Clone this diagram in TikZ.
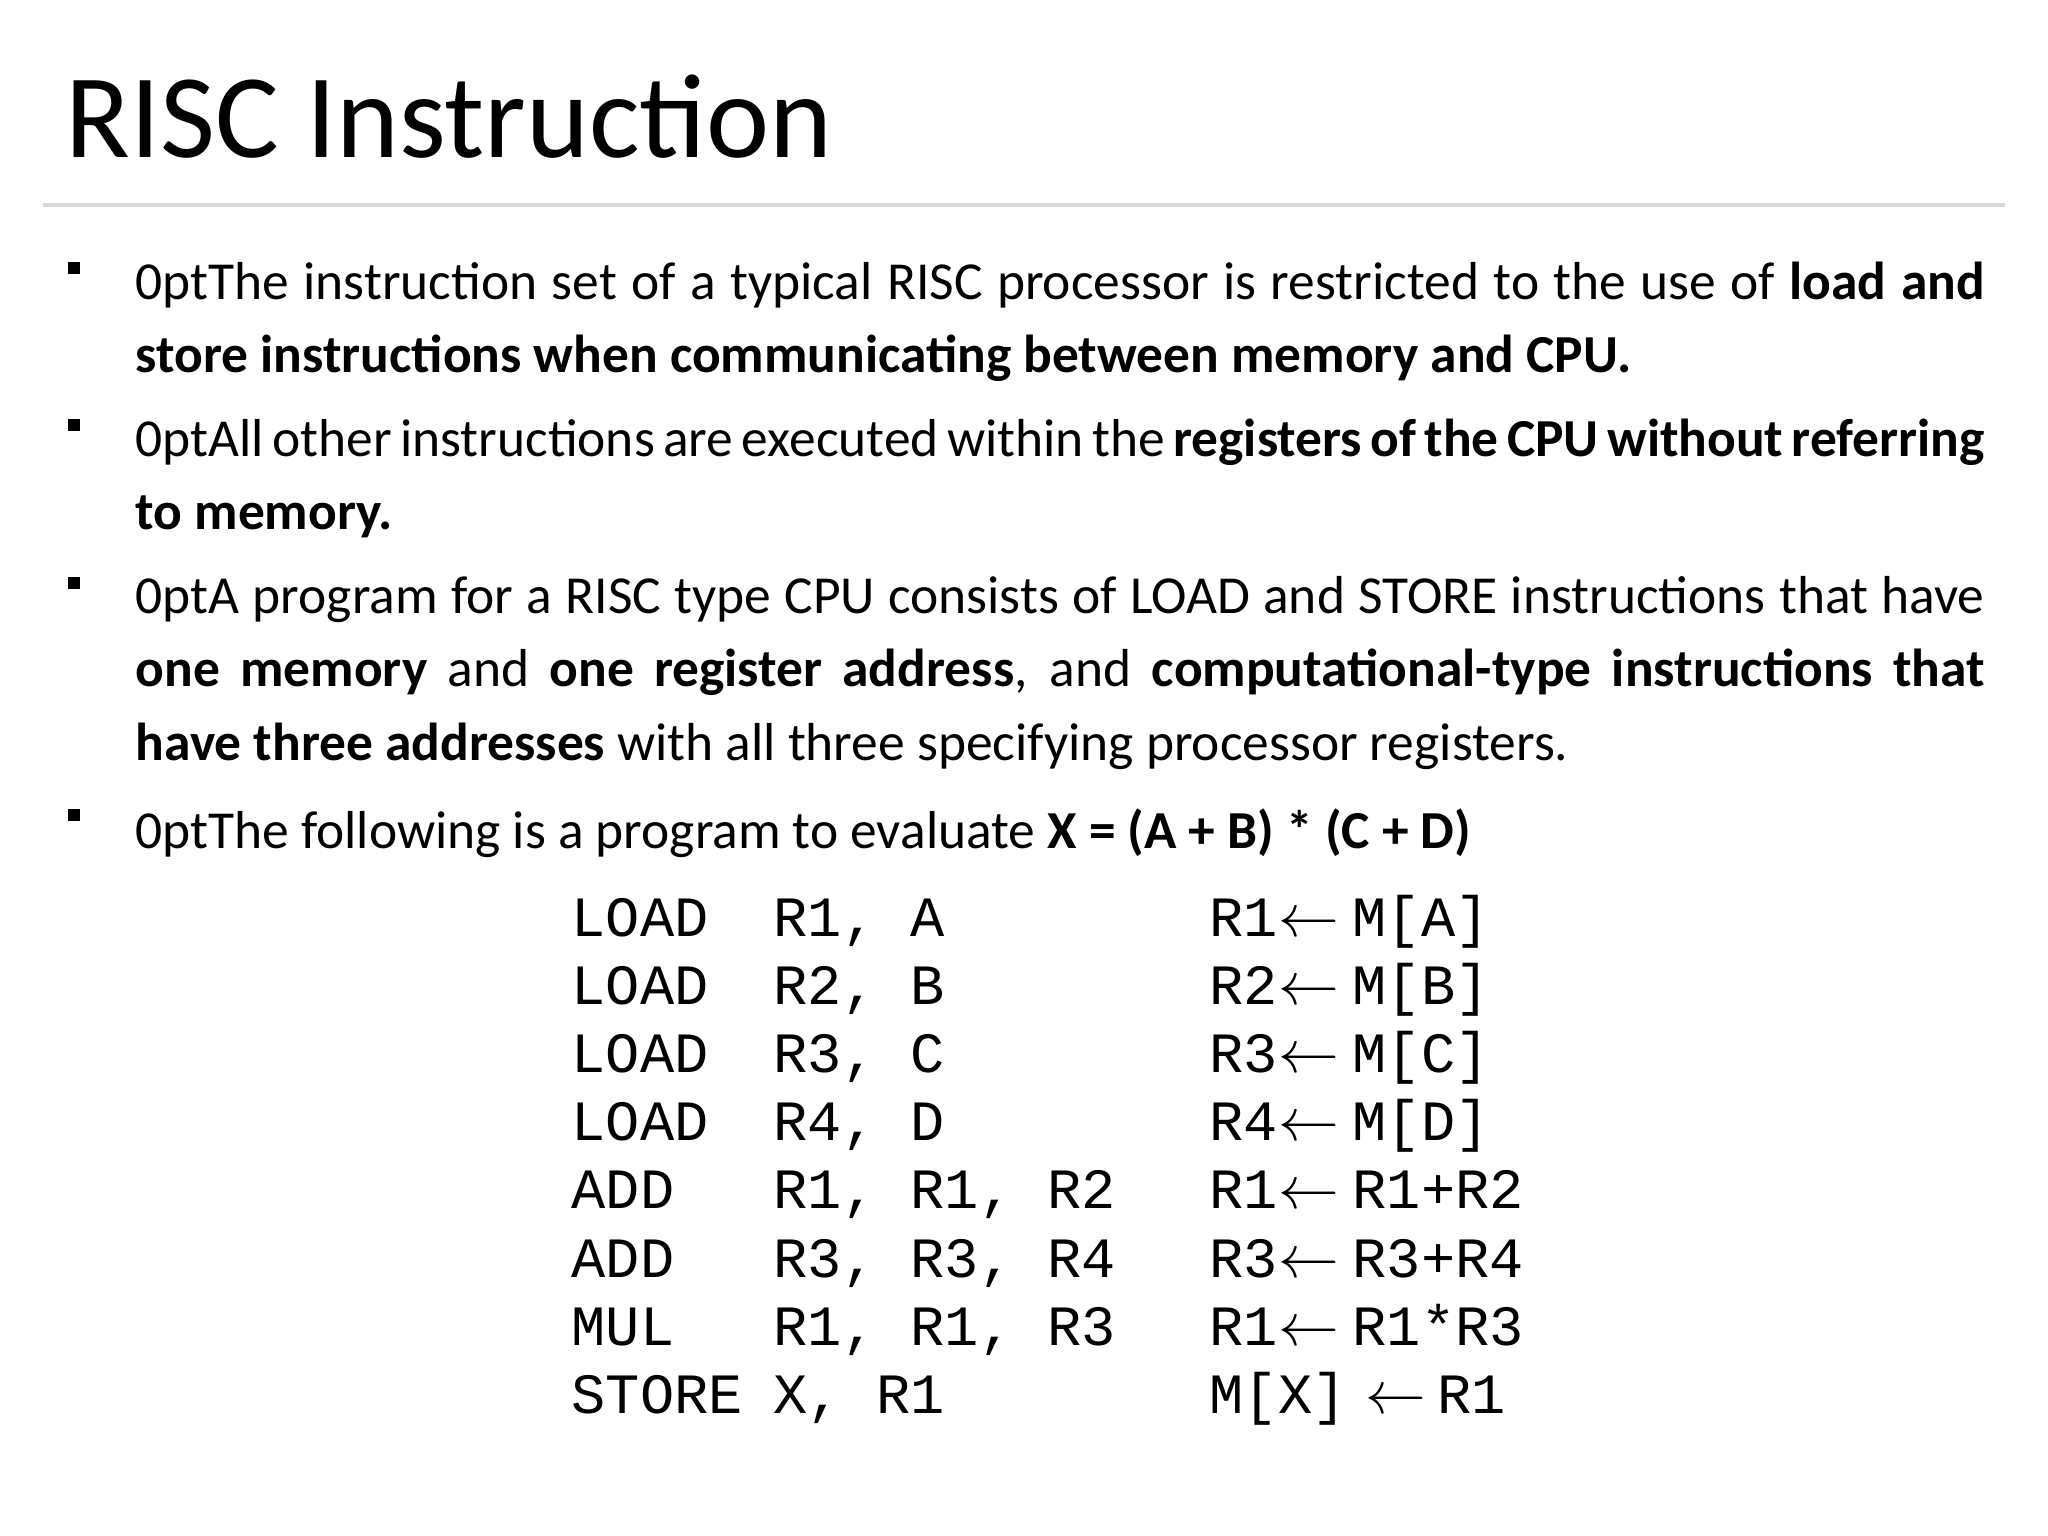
\documentclass[tikz,border=0pt]{standalone}
\usepackage{fontspec}
\setmainfont{Carlito}
\newfontfamily\codefont{Liberation Mono}
\begin{document}
\begin{tikzpicture}[x=0.01cm,y=-0.01cm,
  para/.style={anchor=north west,inner sep=0pt,text width=18.48cm,align=justify,font=\fontsize{15.2pt}{20.8pt}\selectfont\hyphenpenalty=10000\exhyphenpenalty=10000},
  bul/.style={fill=black,inner sep=0pt,minimum width=0.12cm,minimum height=0.12cm},
  code/.style={anchor=base west,inner sep=0pt,font=\codefont\fontsize{16.2pt}{18pt}\selectfont}]
\useasboundingbox (0,0) rectangle (2048,1536);
\node[anchor=base west,inner sep=0pt,font=\fontsize{34pt}{40pt}\selectfont] (title) at (65,157) {RISC Instruction};
\draw[gray!30,line width=1pt] (43,205) coordinate (l1) -- (2005,205) coordinate (l2);
\foreach \y/\n in {268/b1,425/b2,583/b3,815/b4}{\node[bul] (\n) at (74,\y) {};}
\node[para] (p1) at (135,261) {The instruction set of a typical RISC processor is restricted to the use of \textbf{load and store instructions when communicating between memory and CPU.}};
\node[para] (p2) at (135,418) {All other instructions are executed within the \textbf{registers of the CPU without referring to memory.}};
\node[para] (p3) at (135,576) {A program for a RISC type CPU consists of LOAD and STORE instructions that have \textbf{one memory} and \textbf{one register address}, and \textbf{computational-type instructions that have three addresses} with all three specifying processor registers.};
\node[para] (p4) at (135,808) {The following is a program to evaluate \textbf{X = (A + B) * (C + D)}};
\foreach \i/\a/\b/\c/\d/\r/\s in {0/LOAD/{R1,}/A/{}/R1/M[A],1/LOAD/{R2,}/B/{}/R2/M[B],2/LOAD/{R3,}/C/{}/R3/M[C],3/LOAD/{R4,}/D/{}/R4/M[D],4/ADD/{R1,}/{R1,}/R2/R1/R1+R2,5/ADD/{R3,}/{R3,}/R4/R3/R3+R4,6/MUL/{R1,}/{R1,}/R3/R1/R1*R3}{
  \node[code] (c\i) at (571,936+68.2*\i) {\a};
  \node[code] (e\i) at (773,936+68.2*\i) {\b};
  \node[code] (f\i) at (910,936+68.2*\i) {\c};
  \node[code] (g\i) at (1047,936+68.2*\i) {\d};
  \node[code] (d\i) at (1209,936+68.2*\i) {\r$\leftarrow$};
  \node[code] (h\i) at (1352,936+68.2*\i) {\s};
}
\node[code] (c7) at (571,936+68.2*7) {STORE};
\node[code] (e7) at (773,936+68.2*7) {X,};
\node[code] (f7) at (876,936+68.2*7) {R1};
\node[code] (d7) at (1209,936+68.2*7) {M[X]};
\node[code] (a7) at (1365,936+68.2*7) {$\leftarrow$};
\node[code] (h7) at (1437,936+68.2*7) {R1};
\end{tikzpicture}
\end{document}
